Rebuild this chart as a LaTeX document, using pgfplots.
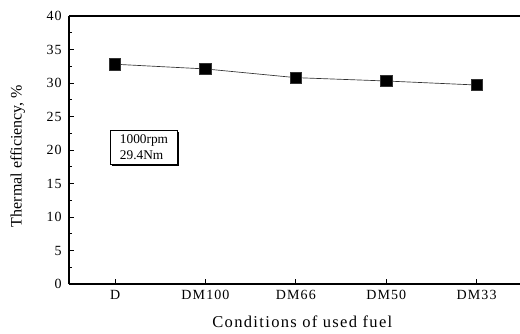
\documentclass[border=0pt]{standalone}
\usepackage{fontspec}
\setmainfont{Liberation Serif}
\usepackage{pgfplots}
\pgfplotsset{compat=1.18}
\usetikzlibrary{shadows}
\begin{document}
\begin{tikzpicture}
\useasboundingbox (-51.75pt,-36.75pt) rectangle (338.25pt,213pt);
\begin{axis}[
  at={(0,0)}, anchor=south west,
  scale only axis, width=338.25pt, height=201pt,
  xmin=-0.51, xmax=4.48, ymin=0, ymax=40,
  axis x line=box, axis y line=left,
  axis line style={-, line width=0.9pt},
  xtick={0,1,2,3,4},
  xticklabels={D,DM100,DM66,DM50,DM33},
  xtick pos=lower,
  ytick={0,5,...,40},
  minor y tick num=1,
  tick align=inside,
  major tick length=4pt, minor tick length=2.5pt,
  tick style={black, line width=0.6pt},
  /pgf/number format/assume math mode=true,
  ticklabel style={font=\fontsize{10.5}{12}\selectfont\addfontfeature{LetterSpace=8}},
  xticklabel style={yshift=-1pt},
  yticklabel style={xshift=-2pt},
  clip=false,
]
\addplot[black!80, line width=0.5pt, mark=square*, mark size=4.3pt, mark options={solid, fill=black}]
  coordinates {(0,32.8) (1,32.1) (2,30.8) (3,30.3) (4,29.7)};
\node[draw, line width=0.5pt, fill=white, align=left, inner sep=3pt,
      drop shadow={shadow xshift=1.3pt, shadow yshift=-1.3pt, fill=black, opacity=1},
      font=\fontsize{10}{12}\selectfont, minimum width=50pt, minimum height=26pt]
  at (axis cs:0.32,20.4) {1000rpm\\29.4Nm};
\end{axis}
\node[font=\fontsize{12.4}{14}\selectfont\addfontfeature{LetterSpace=8}] at (175pt,-28.5pt) {Conditions of used fuel};
\node[rotate=90, font=\fontsize{12}{14}\selectfont] at (-38.5pt,96pt) {Thermal efficiency, \%};
\end{tikzpicture}
\end{document}
